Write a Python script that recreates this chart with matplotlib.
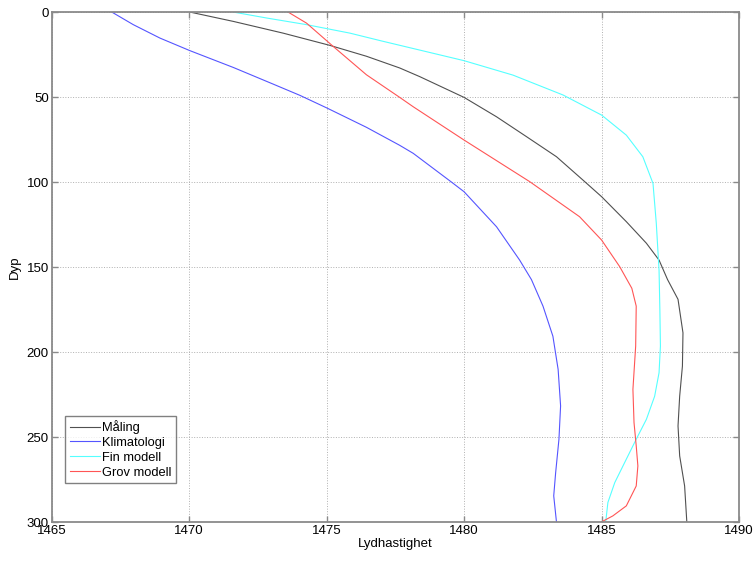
import matplotlib
matplotlib.use("Agg")
import matplotlib.pyplot as plt

plt.rcParams['font.family'] = ['Liberation Sans', 'DejaVu Sans']

# sound speed profiles (depth in m, speed in m/s)
maling_dyp = [0, 5.5, 12.4, 19.6, 26, 32.9, 38, 50.2, 61.6, 73.3, 85.1, 98.8,
              108.6, 123.3, 136, 145.9, 157.4, 169, 188.7, 208.3, 226, 243.5,
              261.1, 278.8, 300]
maling_c = [1470.03, 1471.61, 1473.42, 1475.12, 1476.45, 1477.66, 1478.39,
            1480.0, 1481.18, 1482.27, 1483.36, 1484.32, 1485.0, 1485.9,
            1486.63, 1487.09, 1487.4, 1487.78, 1487.96, 1487.94, 1487.84,
            1487.78, 1487.84, 1488.02, 1488.1]

klima_dyp = [0, 7.4, 15.3, 22.7, 32.6, 42.4, 49, 56.5, 67.8, 78.4, 83.1, 100,
             105.7, 126.3, 145.9, 157.4, 173, 190.7, 210.2, 231.7, 251.3, 271,
             284.6, 300]
klima_c = [1467.19, 1467.97, 1468.94, 1470.03, 1471.61, 1473.06, 1474.03,
           1475.02, 1476.45, 1477.66, 1478.15, 1479.54, 1480.0, 1481.18,
           1482.02, 1482.45, 1482.87, 1483.23, 1483.42, 1483.51, 1483.45,
           1483.33, 1483.26, 1483.36]

fin_dyp = [0, 3.5, 7.4, 12.4, 17, 28.6, 37.1, 48.8, 60.6, 72.4, 85.1, 100.8,
           124.3, 151.8, 175, 196.5, 212.2, 226, 239.6, 251.3, 265, 276.8,
           288.5, 300]
fin_c = [1471.61, 1472.82, 1474.27, 1475.85, 1477.0, 1480.0, 1481.78, 1483.6,
         1485.0, 1485.9, 1486.5, 1486.87, 1486.99, 1487.09, 1487.12, 1487.14,
         1487.09, 1486.93, 1486.63, 1486.26, 1485.84, 1485.48, 1485.23, 1485.15]

grov_dyp = [0, 6.5, 20.2, 36.9, 50.2, 55.7, 75.3, 99.8, 120.4, 134.1, 149.8,
            162.5, 173, 196.5, 222, 241.5, 255.2, 267, 278.8, 290.5, 296.4, 300]
grov_c = [1473.6, 1474.27, 1475.24, 1476.45, 1477.66, 1478.15, 1480.0,
          1482.39, 1484.2, 1485.0, 1485.66, 1486.1, 1486.26, 1486.24, 1486.14,
          1486.18, 1486.26, 1486.32, 1486.26, 1485.9, 1485.41, 1484.99]

fig = plt.figure(figsize=(7.53, 5.61), dpi=100)
ax = fig.add_axes([0.0685, 0.0695, 0.913, 0.909])

ax.plot(maling_c, maling_dyp, color='#505050', lw=0.8, label='Måling')
ax.plot(klima_c, klima_dyp, color='#5555ff', lw=0.8, label='Klimatologi')
ax.plot(fin_c, fin_dyp, color='#55ffff', lw=0.8, label='Fin modell')
ax.plot(grov_c, grov_dyp, color='#ff5555', lw=0.8, label='Grov modell')

ax.set_xlim(1465, 1490)
ax.set_ylim(300, 0)
ax.set_xticks(range(1465, 1491, 5))
ax.set_yticks(range(0, 301, 50))
ax.grid(True, linestyle=':', color='#b0b0b0', lw=0.7)

for s in ax.spines.values():
    s.set_color('#8a8a8a')
    s.set_linewidth(1.3)
ax.tick_params(direction='in', length=4, width=1, color='#8a8a8a',
               top=True, right=True, labelsize=9.5, pad=2)

ax.set_xlabel('Lydhastighet', fontsize=9.5, labelpad=1)
ax.set_ylabel('Dyp', fontsize=9.5, labelpad=4)

leg = ax.legend(loc='lower left', bbox_to_anchor=(0.02, 0.076), borderaxespad=0,
                fontsize=9.3, frameon=True, fancybox=False, handlelength=2.3,
                handletextpad=0.2, labelspacing=0.22, borderpad=0.35)
leg.get_frame().set_edgecolor('#606060')
leg.get_frame().set_linewidth(1.0)

fig.savefig('out.png', dpi=100)
